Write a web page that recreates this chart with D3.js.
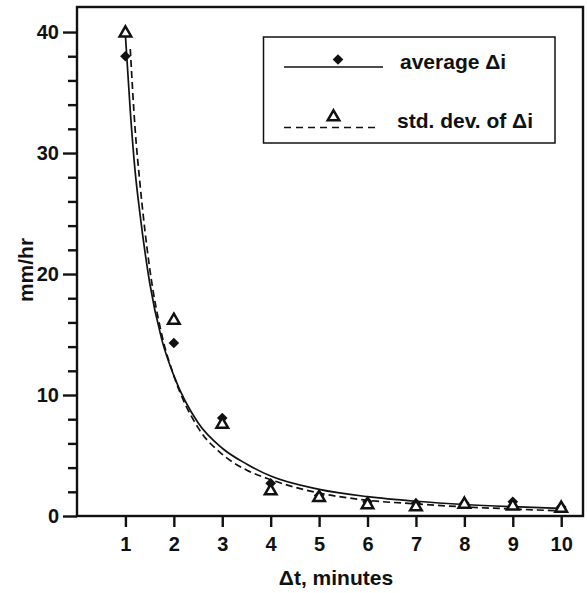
<!DOCTYPE html>
<html>
<head>
<meta charset="utf-8">
<script src="https://cdn.jsdelivr.net/npm/d3@7"></script>
<style>
  body { margin: 0; background: #fff; }
  text { font-family: "Liberation Sans", Arial, sans-serif; font-weight: bold; fill: #111; }
</style>
</head>
<body>
<div id="chart"></div>
<script>
// measured points
var minutes = [1, 2, 3, 4, 5, 6, 7, 8, 9, 10];
var avgDi = [38.0, 14.3, 8.1, 2.7, 1.7, 1.18, 1.05, 1.05, 1.18, 0.75];
var stdDi = [40.0, 16.25, 7.66, 2.15, 1.6, 1.0, 0.83, 1.05, 0.9, 0.72];

// fitted curves
var avgFitT = [1.0, 1.1, 1.2, 1.3, 1.5, 1.75, 2, 2.5, 3, 3.5, 4, 5, 6, 7, 8, 9, 10];
var avgFitV = [39.7, 33.5, 28.5, 25.0, 19.3, 14.6, 11.6, 7.7, 5.6, 4.3, 3.3, 2.2, 1.6, 1.22, 0.95, 0.77, 0.63];
var stdFitT = [1.1, 1.2, 1.3, 1.5, 1.75, 2, 2.5, 3, 3.5, 4, 5, 6, 7, 8, 9, 10];
var stdFitV = [38.6, 32.0, 27.5, 20.5, 15.0, 11.6, 7.3, 5.1, 3.8, 3.0, 1.9, 1.3, 1.0, 0.75, 0.58, 0.42];

var yMajor = [0, 10, 20, 30, 40];
var yMinor = [2, 4, 6, 8, 12, 14, 16, 18, 22, 24, 26, 28, 32, 34, 36, 38];

var width = 587, height = 593;
var plotLeft = 77, plotRight = 583, plotTop = 7, plotBottom = 516;
var ink = "#111";

var svg = d3.select("#chart")
    .append("svg")
    .attr("width", width)
    .attr("height", height);

var x = d3.scaleLinear().domain([0, 10.45]).range([plotLeft, plotRight]);
var y = d3.scaleLinear().domain([0, 42.07]).range([plotBottom, plotTop]);

// frame
svg.append("rect")
    .attr("x", plotLeft).attr("y", plotTop)
    .attr("width", plotRight - plotLeft).attr("height", plotBottom - plotTop)
    .attr("fill", "none")
    .attr("stroke", ink)
    .attr("stroke-width", 2.4);

// y axis
var yMinorAxis = svg.append("g")
    .attr("transform", "translate(" + plotLeft + ",0)")
    .call(d3.axisLeft(y).tickValues(yMinor).tickSize(9).tickFormat(""));
yMinorAxis.select(".domain").remove();

var yAxis = svg.append("g")
    .attr("transform", "translate(" + plotLeft + ",0)")
    .call(d3.axisLeft(y).tickValues(yMajor).tickSize(14).tickPadding(4));
yAxis.select(".domain").remove();

// x axis
var xAxis = svg.append("g")
    .attr("transform", "translate(0," + plotBottom + ")")
    .call(d3.axisBottom(x).tickValues(minutes).tickSize(11).tickPadding(10));
xAxis.select(".domain").remove();

svg.selectAll(".tick line").attr("stroke", ink).attr("stroke-width", 2.4);
svg.selectAll(".tick text").style("font-size", "20px").attr("fill", ink);

// axis titles
svg.append("text")
    .attr("x", 336).attr("y", 585)
    .attr("text-anchor", "middle")
    .style("font-size", "21px")
    .text("\u0394t, minutes");

svg.append("text")
    .attr("transform", "translate(33,270) rotate(-90)")
    .attr("text-anchor", "middle")
    .style("font-size", "21px")
    .text("mm/hr");

// curves
var avgCurve = avgFitT.map(function(t, i) { return [t, avgFitV[i]]; });
var stdCurve = stdFitT.map(function(t, i) { return [t, stdFitV[i]]; });

var line = d3.line()
    .x(function(d) { return x(d[0]); })
    .y(function(d) { return y(d[1]); })
    .curve(d3.curveMonotoneX);

svg.append("path")
    .datum(avgCurve)
    .attr("fill", "none")
    .attr("stroke", ink)
    .attr("stroke-width", 1.7)
    .attr("d", line);

svg.append("path")
    .datum(stdCurve)
    .attr("fill", "none")
    .attr("stroke", ink)
    .attr("stroke-width", 1.7)
    .attr("stroke-dasharray", "7,4")
    .attr("d", line);

// markers
var diamond = d3.symbol().type(d3.symbolDiamond2).size(72);
var triangle = d3.symbol().type(d3.symbolTriangle).size(58);

svg.selectAll("path.avg")
    .data(minutes)
    .enter()
    .append("path")
    .attr("class", "avg")
    .attr("d", diamond)
    .attr("transform", function(d, i) { return "translate(" + x(d) + "," + y(avgDi[i]) + ")"; })
    .attr("fill", ink);

svg.selectAll("path.std")
    .data(minutes)
    .enter()
    .append("path")
    .attr("class", "std")
    .attr("d", triangle)
    .attr("transform", function(d, i) { return "translate(" + x(d) + "," + (y(stdDi[i]) + 1) + ")"; })
    .attr("fill", "#fff")
    .attr("stroke", ink)
    .attr("stroke-width", 2.5);

// legend
var lg = svg.append("g");
lg.append("rect")
    .attr("x", 263.5).attr("y", 37)
    .attr("width", 291.5).attr("height", 106)
    .attr("fill", "#fff")
    .attr("stroke", ink)
    .attr("stroke-width", 1.5);

lg.append("line")
    .attr("x1", 284).attr("x2", 383).attr("y1", 67).attr("y2", 67)
    .attr("stroke", ink).attr("stroke-width", 1.5);
lg.append("path")
    .attr("d", diamond)
    .attr("transform", "translate(338,59.5)")
    .attr("fill", ink);
lg.append("text")
    .attr("x", 400).attr("y", 69)
    .style("font-size", "21px")
    .text("average \u0394i");

lg.append("line")
    .attr("x1", 284).attr("x2", 380).attr("y1", 127.5).attr("y2", 127.5)
    .attr("stroke", ink).attr("stroke-width", 1.5)
    .attr("stroke-dasharray", "7,5");
lg.append("path")
    .attr("d", triangle)
    .attr("transform", "translate(333.5,117)")
    .attr("fill", "#fff")
    .attr("stroke", ink)
    .attr("stroke-width", 2.5);
lg.append("text")
    .attr("x", 397).attr("y", 128)
    .style("font-size", "21px")
    .text("std. dev. of \u0394i");
</script>
</body>
</html>
